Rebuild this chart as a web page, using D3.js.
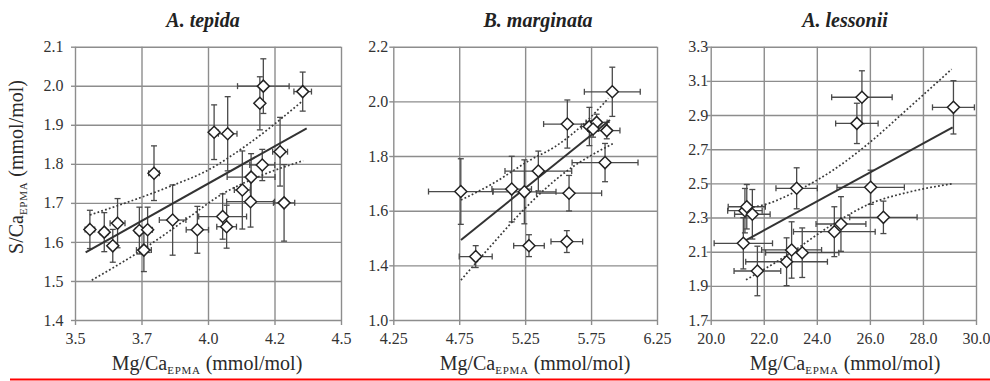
<!DOCTYPE html>
<html>
<head>
<meta charset="utf-8">
<script src="https://cdn.jsdelivr.net/npm/d3@7"></script>
<style>
  html, body { margin: 0; padding: 0; background: #fff; }
  svg { display: block; }
  svg text { font-family: "Liberation Serif", "Times New Roman", Times, serif !important; }
</style>
</head>
<body>
<svg id="chart" width="990" height="381"></svg>
<script>
// ---------------- DATA ----------------
// A. tepida
const tepidaMg    = [3.556,3.610,3.642,3.660,3.742,3.773,3.759,3.797,3.867,3.960,4.023,4.074,4.055,4.070,4.129,4.162,4.160,4.204,4.195,4.208,4.271,4.286,4.356];
const tepidaS     = [1.632,1.625,1.590,1.648,1.629,1.631,1.579,1.776,1.656,1.631,1.881,1.877,1.665,1.639,1.733,1.766,1.703,1.797,1.955,1.999,1.831,1.700,1.985];
const tepidaMgErr = [0.018,0.015,0.012,0.028,0.015,0.018,0.028,0.020,0.050,0.042,0.015,0.035,0.090,0.037,0.030,0.090,0.090,0.047,0.010,0.097,0.028,0.040,0.033];
const tepidaSErr  = [0.049,0.050,0.042,0.063,0.060,0.058,0.055,0.070,0.090,0.060,0.070,0.095,0.058,0.055,0.100,0.060,0.065,0.040,0.068,0.070,0.088,0.098,0.050];
const tepidaFit   = [[3.540,1.573],[4.371,1.891]];
const tepidaUpper = [[3.556,1.669],[3.864,1.744],[3.989,1.780],[4.150,1.850],[4.352,1.959]];
const tepidaLower = [[3.563,1.502],[3.751,1.579],[3.914,1.656],[4.052,1.722],[4.200,1.770],[4.358,1.808]];
const tepidaXTicks  = [3.5,3.75,4.0,4.25,4.5];
const tepidaXLabels = ["3.5","3.7","4.0","4.2","4.5"];
const tepidaYTicks  = [1.4,1.5,1.6,1.7,1.8,1.9,2.0,2.1];
const tepidaYLabels = ["1.4","1.5","1.6","1.7","1.8","1.9","2.0","2.1"];

// B. marginata
const marginataMg    = [4.762,4.875,5.148,5.244,5.350,5.279,5.566,5.583,5.570,5.737,5.792,5.765,5.869,5.856,5.911];
const marginataS     = [1.670,1.432,1.679,1.669,1.745,1.472,1.487,1.664,1.917,1.908,1.923,1.899,1.893,1.776,2.035];
const marginataMgErr = [0.245,0.125,0.150,0.240,0.253,0.116,0.120,0.247,0.180,0.060,0.080,0.040,0.100,0.250,0.212];
const marginataSErr  = [0.120,0.040,0.120,0.117,0.073,0.040,0.040,0.065,0.088,0.070,0.030,0.030,0.030,0.070,0.090];
const marginataFit   = [[4.763,1.493],[5.893,1.932]];
const marginataUpper = [[4.763,1.639],[5.000,1.698],[5.287,1.785],[5.476,1.834],[5.700,1.920],[5.881,2.011]];
const marginataLower = [[4.763,1.346],[5.008,1.481],[5.236,1.602],[5.577,1.749],[5.750,1.802],[5.919,1.846]];
const marginataXTicks  = [4.25,4.75,5.25,5.75,6.25];
const marginataXLabels = ["4.25","4.75","5.25","5.75","6.25"];
const marginataYTicks  = [1.2,1.4,1.6,1.8,2.0,2.2];
const marginataYLabels = ["1.0","1.4","1.6","1.8","2.0","2.2"];

// A. lessonii
const lessoniiMg    = [21.23,21.76,21.29,21.36,21.57,23.24,22.86,23.05,23.45,24.66,24.91,26.03,26.51,25.51,25.70,29.15];
const lessoniiS     = [2.149,1.987,2.340,2.363,2.319,2.471,2.041,2.110,2.094,2.217,2.262,2.477,2.301,2.851,3.004,2.945];
const lessoniiMgErr = [1.10,0.88,0.65,0.70,0.67,0.78,1.54,1.13,1.38,1.54,0.94,1.27,1.27,0.80,1.14,0.79];
const lessoniiSErr  = [0.150,0.145,0.130,0.130,0.145,0.120,0.140,0.165,0.145,0.146,0.160,0.100,0.095,0.118,0.155,0.156];
const lessoniiFit   = [[21.30,2.165],[29.12,2.828]];
const lessoniiUpper = [[21.30,2.355],[21.98,2.373],[23.24,2.455],[24.62,2.578],[26.00,2.740],[27.38,2.930],[29.08,3.168]];
const lessoniiLower = [[21.33,1.935],[22.99,2.090],[24.50,2.250],[26.00,2.380],[27.50,2.450],[29.08,2.497]];
const lessoniiXTicks  = [20,22,24,26,28,30];
const lessoniiXLabels = ["20.0","22.0","24.0","26.0","28.0","30.0"];
const lessoniiYTicks  = [1.7,1.9,2.1,2.3,2.5,2.7,2.9,3.1,3.3];
const lessoniiYLabels = ["1.7","1.9","2.1","2.3","2.5","2.7","2.9","3.1","3.3"];

const titles = ["A. tepida","B. marginata","A. lessonii"];

// ---------------- LAYOUT ----------------
const SERIF = '"Liberation Serif","Times New Roman",Times,serif';
const TOP = 46.7, BOTTOM = 320;
const panels = [
  {title:titles[0], mg:tepidaMg, s:tepidaS, mgE:tepidaMgErr, sE:tepidaSErr, fit:tepidaFit, up:tepidaUpper, lo:tepidaLower,
   xT:tepidaXTicks, xL:tepidaXLabels, yT:tepidaYTicks, yL:tepidaYLabels,
   left:75, right:341, titleX:203, xLabX:207, yLabGap:11.5, yLabel:true},
  {title:titles[1], mg:marginataMg, s:marginataS, mgE:marginataMgErr, sE:marginataSErr, fit:marginataFit, up:marginataUpper, lo:marginataLower,
   xT:marginataXTicks, xL:marginataXLabels, yT:marginataYTicks, yL:marginataYLabels,
   left:393.3, right:657, titleX:538, xLabX:535, yLabGap:5, yLabel:false},
  {title:titles[2], mg:lessoniiMg, s:lessoniiS, mgE:lessoniiMgErr, sE:lessoniiSErr, fit:lessoniiFit, up:lessoniiUpper, lo:lessoniiLower,
   xT:lessoniiXTicks, xL:lessoniiXLabels, yT:lessoniiYTicks, yL:lessoniiYLabels,
   left:710.7, right:976, titleX:845, xLabX:845, yLabGap:2.5, yLabel:false}
];

const svg = d3.select("#chart");
svg.append("rect").attr("width",990).attr("height",381).attr("fill","#fff");

const GRID = "#8d8d8d", TXT = "#2a2a2a";

function axisLabel(sel, prefix) {
  sel.style("font-family", SERIF);
  sel.append("tspan").text(prefix);
  sel.append("tspan").text("EPMA").style("font-size","11px").attr("dy",4).attr("letter-spacing",0.7);
  sel.append("tspan").text(" (mmol/mol)").attr("dy",-4);
}

panels.forEach(p => {
  const x = d3.scaleLinear().domain([p.xT[0], p.xT[p.xT.length-1]]).range([p.left, p.right]);
  const y = d3.scaleLinear().domain([p.yT[0], p.yT[p.yT.length-1]]).range([BOTTOM, TOP]);
  const w = p.right - p.left, h = BOTTOM - TOP;
  const g = svg.append("g");

  // gridlines (include frame edges)
  const gx = g.append("g").attr("transform",`translate(0,${BOTTOM})`)
    .call(d3.axisBottom(x).tickValues(p.xT).tickSize(-h).tickFormat(""));
  const gy = g.append("g").attr("transform",`translate(${p.left},0)`)
    .call(d3.axisLeft(y).tickValues(p.yT).tickSize(-w).tickFormat(""));
  // outer ticks
  const tx = g.append("g").attr("transform",`translate(0,${BOTTOM})`)
    .call(d3.axisBottom(x).tickValues(p.xT).tickSize(5).tickFormat(""));
  const ty = g.append("g").attr("transform",`translate(${p.left},0)`)
    .call(d3.axisLeft(y).tickValues(p.yT).tickSize(4).tickFormat(""));
  [gx,gy,tx,ty].forEach(a => {
    a.select(".domain").remove();
    a.selectAll("line").attr("stroke",GRID).attr("stroke-width",1.4);
  });
  // tick labels
  const lx = g.append("g").attr("transform",`translate(0,${BOTTOM})`)
    .call(d3.axisBottom(x).tickValues(p.xT).tickSize(0).tickPadding(13).tickFormat((d,i)=>p.xL[i]));
  const ly = g.append("g").attr("transform",`translate(${p.left},0)`)
    .call(d3.axisLeft(y).tickValues(p.yT).tickSize(0).tickPadding(p.yLabGap).tickFormat((d,i)=>p.yL[i]));
  [lx,ly].forEach(a => {
    a.attr("font-family", null).attr("font-size", null);
    a.select(".domain").remove();
    a.selectAll("text").style("font-family", SERIF).style("font-size","16px").attr("fill","#333");
  });

  // error bars
  const eb = g.append("g").attr("stroke","#4a4a4a").attr("stroke-width",1.3).attr("fill","none");
  const cap = 3;
  p.mg.forEach((mv,i) => {
    const cx = x(mv), cy = y(p.s[i]);
    const xa = x(mv - p.mgE[i]), xb = x(mv + p.mgE[i]);
    const ya = y(p.s[i] - p.sE[i]), yb = y(p.s[i] + p.sE[i]);
    eb.append("line").attr("x1",xa).attr("x2",xb).attr("y1",cy).attr("y2",cy);
    eb.append("line").attr("x1",xa).attr("x2",xa).attr("y1",cy-cap).attr("y2",cy+cap);
    eb.append("line").attr("x1",xb).attr("x2",xb).attr("y1",cy-cap).attr("y2",cy+cap);
    eb.append("line").attr("x1",cx).attr("x2",cx).attr("y1",ya).attr("y2",yb);
    eb.append("line").attr("x1",cx-cap).attr("x2",cx+cap).attr("y1",ya).attr("y2",ya);
    eb.append("line").attr("x1",cx-cap).attr("x2",cx+cap).attr("y1",yb).attr("y2",yb);
  });

  // regression & confidence curves
  const line = d3.line().x(d=>x(d[0])).y(d=>y(d[1]));
  const curve = d3.line().x(d=>x(d[0])).y(d=>y(d[1])).curve(d3.curveMonotoneX);
  g.append("path").attr("d",curve(p.up)).attr("fill","none").attr("stroke","#3a3a3a")
    .attr("stroke-width",1.7).attr("stroke-dasharray","1.8,2.2");
  g.append("path").attr("d",curve(p.lo)).attr("fill","none").attr("stroke","#3a3a3a")
    .attr("stroke-width",1.7).attr("stroke-dasharray","1.8,2.2");
  g.append("path").attr("d",line(p.fit)).attr("fill","none").attr("stroke","#333")
    .attr("stroke-width",2);

  // diamonds
  g.append("g").selectAll("path").data(p.mg).join("path")
    .attr("transform",(d,i)=>`translate(${x(d)},${y(p.s[i])})`)
    .attr("d","M0,-6L6,0L0,6L-6,0Z")
    .attr("fill","#fff").attr("stroke","#222").attr("stroke-width",1.5);

  // title
  g.append("text").attr("x",p.titleX).attr("y",26.5).attr("text-anchor","middle")
    .style("font-family",SERIF).style("font-size","20px").style("font-weight","bold").style("font-style","italic")
    .attr("fill","#222").text(p.title);

  // x axis label
  const xl = g.append("text").attr("x",p.xLabX).attr("y",369.5).attr("text-anchor","middle")
    .style("font-size","20px").attr("fill",TXT);
  axisLabel(xl, "Mg/Ca");

  if (p.yLabel) {
    const yl = g.append("text").attr("transform","translate(23,167) rotate(-90)")
      .attr("text-anchor","middle").style("font-size","20px").attr("fill",TXT);
    axisLabel(yl, "S/Ca");
  }
});

// red rule along the bottom
svg.append("line").attr("x1",10).attr("x2",990).attr("y1",379.5).attr("y2",379.5)
  .attr("stroke","#ff0000").attr("stroke-width",2);
</script>
</body>
</html>
